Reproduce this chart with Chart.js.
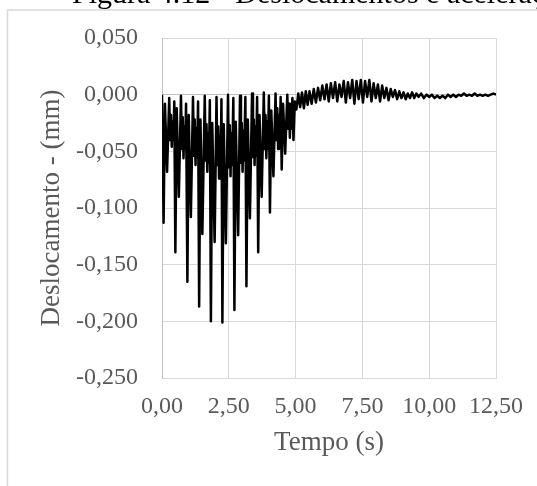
<!DOCTYPE html>
<html>
<head>
<meta charset="utf-8">
<script src="https://cdn.jsdelivr.net/npm/chart.js@4.4.1/dist/chart.umd.min.js"></script>
<style>
  html, body { margin: 0; padding: 0; background: #ffffff; overflow: hidden; }
  #wrap { position: relative; width: 537px; height: 486px; }
</style>
</head>
<body>
<div id="wrap"><canvas id="c" width="537" height="486"></canvas></div>
<script>
// Time (s)
const tempo = [
  0.00,
  0.06, 0.11, 0.19, 0.27, 0.305, 0.335, 0.365, 0.395, 0.425, 0.46,
  0.50, 0.55, 0.63, 0.71, 0.745, 0.775, 0.805, 0.835, 0.865, 0.90,
  0.95, 1.00, 1.08, 1.16, 1.195, 1.225, 1.255, 1.285, 1.315, 1.35,
  1.39, 1.44, 1.51, 1.60, 1.635, 1.665, 1.695, 1.725, 1.755, 1.79,
  1.83, 1.88, 1.97, 2.04, 2.075, 2.105, 2.135, 2.165, 2.195, 2.225,
  2.26, 2.31, 2.39, 2.47, 2.505, 2.535, 2.565, 2.595, 2.625, 2.67,
  2.71, 2.76, 2.85, 2.92, 2.955, 2.985, 3.015, 3.045, 3.075, 3.12,
  3.16, 3.21, 3.29, 3.37, 3.405, 3.435, 3.465, 3.495, 3.525, 3.56,
  3.60, 3.65, 3.73, 3.81, 3.845, 3.875, 3.905, 3.935, 3.965, 4.00,
  4.04, 4.09, 4.17, 4.25, 4.285, 4.315, 4.345, 4.375, 4.405, 4.44,
  4.48, 4.53, 4.61, 4.69, 4.725, 4.755, 4.785, 4.815, 4.845, 4.88,
  4.92, 4.97,
  5.03, 5.10, 5.17, 5.24, 5.31, 5.38, 5.45, 5.52, 5.60, 5.68,
  5.76, 5.84, 5.92, 6.00, 6.08, 6.16, 6.24, 6.32, 6.40, 6.48,
  6.56, 6.64, 6.72, 6.80, 6.88, 6.96, 7.04, 7.12, 7.20, 7.28,
  7.36, 7.44, 7.52, 7.60, 7.68, 7.76, 7.84, 7.92, 8.00, 8.08,
  8.16, 8.24, 8.32, 8.40, 8.48, 8.56, 8.64, 8.72, 8.80, 8.88,
  8.96, 9.04, 9.12, 9.20, 9.28, 9.36, 9.44, 9.52, 9.60, 9.70,
  9.80, 9.90, 10.00, 10.10, 10.20, 10.30, 10.40, 10.50, 10.60, 10.70,
  10.80, 10.90, 11.00, 11.10, 11.20, 11.30, 11.40, 11.50, 11.60, 11.70,
  11.80, 11.90, 12.00, 12.10, 12.20, 12.30, 12.40, 12.50
];

// Displacement (mm)
const deslocamento = [
  0.000,
  -0.113, -0.008, -0.068, -0.003, -0.040, -0.018, -0.046, -0.024, -0.040, -0.006,
  -0.139, -0.012, -0.090, -0.001, -0.048, -0.020, -0.056, -0.028, -0.048, -0.008,
  -0.165, -0.018, -0.108, -0.002, -0.054, -0.022, -0.062, -0.030, -0.055, -0.006,
  -0.187, -0.022, -0.123, -0.001, -0.058, -0.026, -0.068, -0.034, -0.060, -0.005,
  -0.200, -0.025, -0.130, -0.002, -0.062, -0.028, -0.074, -0.036, -0.064, -0.004,
  -0.201, -0.026, -0.131, 0.000, -0.064, -0.027, -0.072, -0.034, -0.062, -0.003,
  -0.190, -0.024, -0.124, -0.001, -0.060, -0.025, -0.068, -0.032, -0.058, -0.002,
  -0.169, -0.022, -0.109, 0.001, -0.055, -0.022, -0.062, -0.028, -0.054, -0.002,
  -0.139, -0.018, -0.090, 0.002, -0.048, -0.018, -0.056, -0.024, -0.048, -0.001,
  -0.104, -0.014, -0.072, 0.001, -0.040, -0.012, -0.048, -0.018, -0.040, -0.002,
  -0.066, -0.008, -0.052, 0.000, -0.030, -0.008, -0.038, -0.012, -0.030, -0.003,
  -0.040, -0.006,
  -0.013, 0.001, -0.011, 0.002, -0.012, 0.003, -0.009, 0.003, -0.008, 0.005,
  -0.007, 0.006, -0.005, 0.008, -0.004, 0.009, -0.006, 0.010, -0.003, 0.011,
  -0.006, 0.009, -0.002, 0.012, -0.007, 0.011, -0.003, 0.013, -0.008, 0.012,
  -0.004, 0.013, -0.007, 0.012, -0.002, 0.013, -0.006, 0.010, -0.003, 0.009,
  -0.006, 0.008, -0.003, 0.006, -0.005, 0.005, -0.002, 0.004, -0.004, 0.003,
  -0.003, 0.002, -0.004, 0.001, -0.003, 0.002, -0.003, 0.001, -0.002, 0.001,
  -0.003, 0.000, -0.002, 0.000, -0.003, -0.001, -0.003, -0.001, -0.003, 0.000,
  -0.002, 0.000, -0.002, 0.000, -0.001, 0.001, -0.001, 0.000, -0.001, 0.001,
  -0.001, 0.000, -0.001, 0.000, -0.001, 0.000, 0.001, 0.000
];

const xTicks = [0, 2.5, 5, 7.5, 10, 12.5];
const xTickLabels = ['0,00', '2,50', '5,00', '7,50', '10,00', '12,50'];
const yTicks = [-0.25, -0.2, -0.15, -0.1, -0.05, 0, 0.05];
const yTickLabels = ['-0,250', '-0,200', '-0,150', '-0,100', '-0,050', '0,000', '0,050'];

const caption = 'Figura 4.12 - Deslocamentos e acelerações';
const xTitle = 'Tempo (s)';
const yTitle = 'Deslocamento - (mm)';

const SERIF = "'Liberation Serif', 'Times New Roman', serif";
const TEXT = '#595959';

const points = tempo.map((t, i) => ({ x: t, y: deslocamento[i] }));

// Outer frame of the chart and the caption line above it
const framePlugin = {
  id: 'frame',
  beforeDraw(chart) {
    const ctx = chart.ctx;
    ctx.save();
    ctx.fillStyle = '#ffffff';
    ctx.fillRect(0, 0, chart.width, chart.height);
    ctx.strokeStyle = '#d9d9d9';
    ctx.lineWidth = 1.5;
    ctx.strokeRect(7.5, 10, chart.width + 20, chart.height + 20);
    ctx.fillStyle = '#000000';
    ctx.font = '30px ' + SERIF;
    ctx.textBaseline = 'alphabetic';
    ctx.textAlign = 'left';
    ctx.fillText(caption, 72, 3);
    ctx.restore();
  }
};

function zeroPadding(scale) {
  scale.paddingLeft = 0;
  scale.paddingRight = 0;
  scale.paddingTop = 0;
  scale.paddingBottom = 0;
}

new Chart(document.getElementById('c'), {
  type: 'line',
  data: {
    datasets: [{
      data: points,
      borderColor: '#000000',
      borderWidth: 2.5,
      pointRadius: 0,
      tension: 0,
      borderJoinStyle: 'round',
      fill: false
    }]
  },
  options: {
    responsive: false,
    animation: false,
    devicePixelRatio: 1,
    layout: { padding: { top: 38, right: 41, left: 0, bottom: 0 } },
    plugins: {
      legend: { display: false },
      tooltip: { enabled: false },
      title: { display: false }
    },
    scales: {
      x: {
        type: 'linear',
        min: 0,
        max: 12.5,
        afterBuildTicks(scale) { scale.ticks = xTicks.map(v => ({ value: v })); },
        afterFit(scale) { scale.height = 108; zeroPadding(scale); },
        ticks: {
          autoSkip: false,
          maxRotation: 0,
          padding: 14,
          color: TEXT,
          font: { family: SERIF, size: 24 },
          callback(value) {
            const i = xTicks.findIndex(v => Math.abs(v - value) < 1e-9);
            return i >= 0 ? xTickLabels[i] : '';
          }
        },
        grid: { color: '#d9d9d9', lineWidth: 1, drawTicks: false },
        border: { display: true, color: '#d9d9d9', width: 1 },
        title: {
          display: true,
          text: xTitle,
          color: TEXT,
          font: { family: SERIF, size: 27 },
          padding: { top: 0, bottom: 27 }
        }
      },
      y: {
        type: 'linear',
        min: -0.25,
        max: 0.05,
        afterBuildTicks(scale) { scale.ticks = yTicks.map(v => ({ value: v })); },
        afterFit(scale) { scale.width = 162; zeroPadding(scale); },
        ticks: {
          autoSkip: false,
          padding: 24,
          color: TEXT,
          font: { family: SERIF, size: 24 },
          callback(value) {
            const i = yTicks.findIndex(v => Math.abs(v - value) < 1e-9);
            return i >= 0 ? yTickLabels[i] : '';
          }
        },
        grid: {
          color: (c) => (c.tick && Math.abs(c.tick.value) < 1e-9 ? '#bfbfbf' : '#d9d9d9'),
          lineWidth: 1,
          drawTicks: false
        },
        border: { display: true, color: '#bfbfbf', width: 1 },
        title: {
          display: true,
          text: yTitle,
          color: TEXT,
          font: { family: SERIF, size: 27 },
          padding: { top: 36, bottom: 0 }
        }
      }
    }
  },
  plugins: [framePlugin]
});
</script>
</body>
</html>
